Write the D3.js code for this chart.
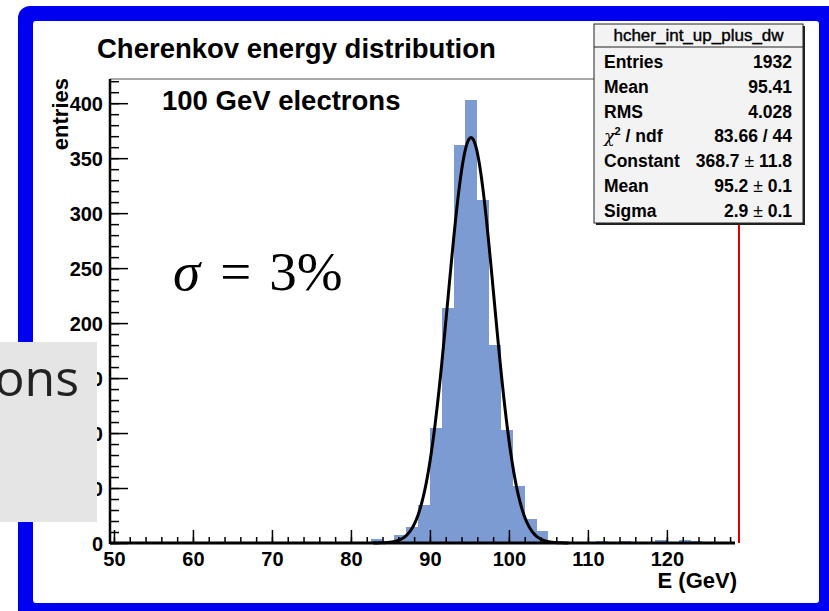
<!DOCTYPE html>
<html>
<head>
<meta charset="utf-8">
<script src="https://cdn.jsdelivr.net/npm/d3@7"></script>
<style>
body { margin: 0; background: #fff; }
svg { display: block; font-family: "Liberation Sans", Arial, sans-serif; }
.tick-label { font-weight: bold; font-size: 20px; fill: #000; }
.axis-title { font-weight: bold; font-size: 22px; fill: #000; }
.stats text { font-size: 17.5px; font-weight: bold; }
</style>
</head>
<body>
<svg width="829" height="611"></svg>
<script>
// histogram: lower bin edge (GeV), bins are 1.5 GeV wide, empty bins left out
var binWidth = 1.5;
var binLow   = [49.5, 79.5, 82.5, 85.5, 87, 88.5, 90, 91.5, 93, 94.5, 96, 97.5, 99, 100.5, 102, 103.5, 111, 114, 118.5, 121.5, 123];
var binCount = [1, 1, 4, 7, 15, 35, 105, 214, 362, 403, 312, 180, 103, 52, 22, 11, 2, 2, 3, 3, 2];

var xDomain = [49.5, 129];
var yDomain = [0, 422];
var xMajorTicks = [50, 60, 70, 80, 90, 100, 110, 120];
var yMajorTicks = [0, 50, 100, 150, 200, 250, 300, 350, 400];

// gaussian fit parameters (from the stats box)
var fitConstant = 368.7, fitMean = 95.2, fitSigma = 2.9;
var fitRange = [82.8, 107.6];

var statsTitle  = 'hcher_int_up_plus_dw';
var statsNames  = ['Entries', 'Mean', 'RMS', 'chi2', 'Constant', 'Mean', 'Sigma'];
var statsValues = ['1932', '95.41', '4.028', '83.66 / 44', '368.7', '95.2', '2.9'];
var statsErrors = ['', '', '', '', '11.8', '0.1', '0.1'];

var svg = d3.select('svg');

// frame of the plot area
var frame = {l: 110, r: 738, t: 79, b: 543};

// blue slide border
svg.append('rect')
    .attr('x', 18).attr('y', 6)
    .attr('width', 830).attr('height', 620)
    .attr('rx', 12)
    .attr('fill', '#0000f0');
svg.append('rect')
    .attr('x', 33).attr('y', 21)
    .attr('width', 786).attr('height', 582)
    .attr('rx', 3)
    .attr('fill', '#fff');

var xScale = d3.scaleLinear().domain(xDomain).range([frame.l, frame.r]);
var yScale = d3.scaleLinear().domain(yDomain).range([frame.b, frame.t]);

// bars
svg.selectAll('.bin')
    .data(d3.zip(binLow, binCount))
    .enter()
    .append('rect')
    .attr('class', 'bin')
    .attr('x', d => xScale(d[0]))
    .attr('width', d => xScale(d[0] + binWidth) - xScale(d[0]))
    .attr('y', d => yScale(d[1]))
    .attr('height', d => yScale(0) - yScale(d[1]))
    .attr('shape-rendering', 'crispEdges')
    .attr('fill', '#7b9bd2');

// fit curve
var fitX = d3.range(fitRange[0], fitRange[1], 0.05);
var gauss = function(v) {
    return fitConstant * Math.exp(-0.5 * Math.pow((v - fitMean) / fitSigma, 2));
};
var fitLine = d3.line()
    .x(d => xScale(d))
    .y(d => yScale(gauss(d)));
svg.append('path')
    .attr('d', fitLine(fitX))
    .attr('fill', 'none')
    .attr('stroke', '#000')
    .attr('stroke-width', 3)
    .attr('stroke-linejoin', 'round');

// top frame line and red right edge
svg.append('line')
    .attr('x1', frame.l).attr('x2', frame.r)
    .attr('y1', frame.t).attr('y2', frame.t)
    .attr('stroke', '#555').attr('stroke-width', 1);
svg.append('line')
    .attr('x1', frame.r + 1).attr('x2', frame.r + 1)
    .attr('y1', frame.t).attr('y2', frame.b)
    .attr('stroke', '#e00000').attr('stroke-width', 2);

// x axis (ROOT style, ticks inside)
var xMinor = svg.append('g')
    .attr('transform', 'translate(0,' + frame.b + ')')
    .call(d3.axisBottom(xScale).tickValues(d3.range(50, 129, 2)).tickSizeInner(-6).tickSizeOuter(0).tickFormat(''));
var xMajor = svg.append('g')
    .attr('transform', 'translate(0,' + frame.b + ')')
    .call(d3.axisBottom(xScale).tickValues(xMajorTicks).tickSizeInner(-13).tickSizeOuter(0).tickPadding(9));

// y axis
var yMinor = svg.append('g')
    .attr('transform', 'translate(' + frame.l + ',0)')
    .call(d3.axisLeft(yScale).tickValues(d3.range(0, 421, 10)).tickSizeInner(-9).tickSizeOuter(0).tickFormat(''));
var yMajor = svg.append('g')
    .attr('transform', 'translate(' + frame.l + ',0)')
    .call(d3.axisLeft(yScale).tickValues(yMajorTicks).tickSizeInner(-18).tickSizeOuter(0).tickPadding(7));

[xMinor, xMajor, yMinor, yMajor].forEach(function(g) {
    g.select('.domain').remove();
    g.selectAll('line').attr('stroke', '#000').attr('stroke-width', 1.5);
    g.selectAll('text').attr('class', 'tick-label').attr('font-family', null).attr('font-size', null);
});
yMajor.selectAll('text').attr('dy', '0.36em');

svg.append('line')
    .attr('x1', frame.l).attr('x2', frame.r - 3)
    .attr('y1', frame.b).attr('y2', frame.b)
    .attr('stroke', '#000').attr('stroke-width', 3);
svg.append('line')
    .attr('x1', frame.l).attr('x2', frame.l)
    .attr('y1', frame.t).attr('y2', frame.b + 1)
    .attr('stroke', '#000').attr('stroke-width', 2.5);

// axis titles
svg.append('text')
    .attr('x', frame.r - 1).attr('y', 588)
    .attr('text-anchor', 'end')
    .attr('class', 'axis-title')
    .text('E (GeV)');
svg.append('text')
    .attr('transform', 'translate(68,' + (frame.t - 1) + ') rotate(-90)')
    .attr('text-anchor', 'end')
    .attr('class', 'axis-title')
    .text('entries');

// titles
svg.append('text')
    .attr('x', 97).attr('y', 58)
    .attr('font-size', 27.5).attr('font-weight', 'bold')
    .text('Cherenkov energy distribution');
svg.append('text')
    .attr('x', 162).attr('y', 110)
    .attr('font-size', 27.5).attr('font-weight', 'bold')
    .text('100 GeV electrons');

// sigma label
var sig = svg.append('text')
    .attr('x', 173).attr('y', 290)
    .attr('font-family', '"Liberation Serif", "DejaVu Serif", serif')
    .attr('font-size', 55);
sig.append('tspan').attr('font-style', 'italic').text('σ');
sig.append('tspan').attr('dx', 20).text('=');
sig.append('tspan').attr('dx', 18).text('3%');

// stats box
var box = {x: 594, y: 24, w: 209, h: 199};
var stats = svg.append('g').attr('class', 'stats');
stats.append('rect')
    .attr('x', box.x + 2).attr('y', box.y + 2)
    .attr('width', box.w).attr('height', box.h)
    .attr('fill', '#222');
stats.append('rect')
    .attr('x', box.x).attr('y', box.y)
    .attr('width', box.w).attr('height', box.h)
    .attr('fill', '#f3f3f3').attr('stroke', '#222').attr('stroke-width', 1);
stats.append('line')
    .attr('x1', box.x).attr('x2', box.x + box.w)
    .attr('y1', box.y + 23).attr('y2', box.y + 23)
    .attr('stroke', '#222');
stats.append('text')
    .attr('x', box.x + box.w / 2).attr('y', box.y + 17)
    .attr('text-anchor', 'middle')
    .attr('stroke', '#000').attr('stroke-width', 0.4)
    .style('font-weight', 'normal').style('font-size', '17px')
    .text(statsTitle);

statsNames.forEach(function(name, i) {
    var yy = 68 + i * 24.8;
    var lab = stats.append('text').attr('x', box.x + 10).attr('y', yy);
    if (name === 'chi2') {
        lab.append('tspan').attr('font-family', '"DejaVu Serif", serif').style('font-weight', 'normal').style('font-style', 'italic').text('χ');
        lab.append('tspan').attr('dy', -7).style('font-size', '11px').text('2');
        lab.append('tspan').attr('dy', 7).text(' / ndf');
    } else {
        lab.text(name);
    }
    var val = stats.append('text').attr('x', box.x + box.w - 11).attr('y', yy).attr('text-anchor', 'end');
    val.append('tspan').text(statsValues[i]);
    if (statsErrors[i]) {
        val.append('tspan').style('font-weight', 'normal').text(' ± ');
        val.append('tspan').text(statsErrors[i]);
    }
});

// grey overlay from the slide
svg.append('rect')
    .attr('x', 0).attr('y', 342)
    .attr('width', 97).attr('height', 180)
    .attr('fill', '#e5e5e5');
svg.append('text')
    .attr('x', 79).attr('y', 396)
    .attr('text-anchor', 'end')
    .attr('font-family', '"Open Sans", sans-serif')
    .attr('font-size', 50)
    .attr('fill', '#222')
    .text('ons');
</script>
</body>
</html>
